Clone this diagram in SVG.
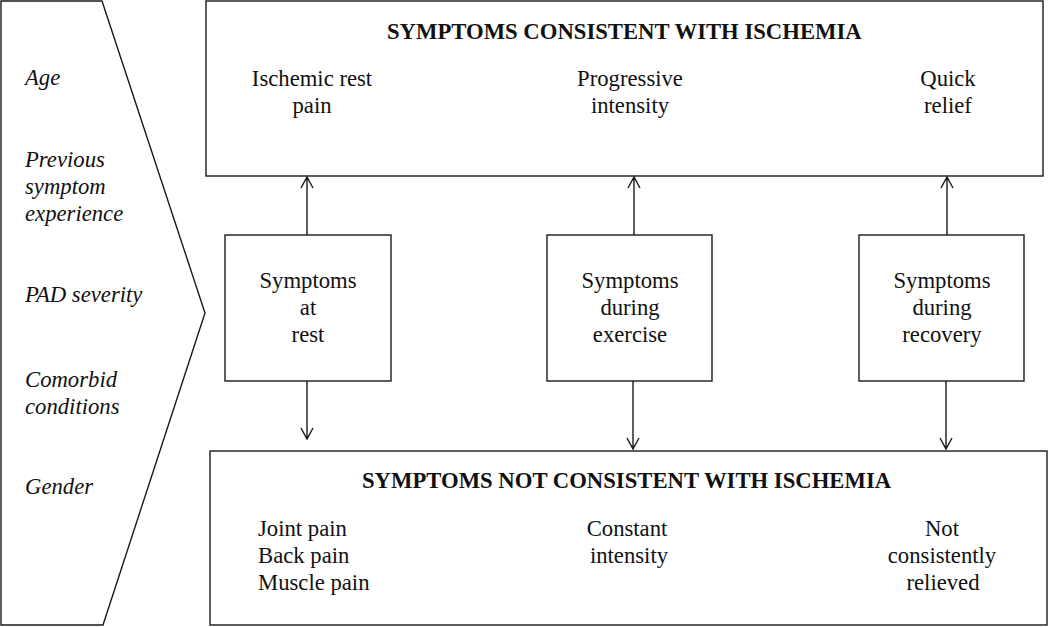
<svg xmlns="http://www.w3.org/2000/svg" width="1050" height="627" viewBox="0 0 1050 627">
<style>
.box{fill:#fff;stroke:#1a1a1a;stroke-width:1.4}
.ln{fill:none;stroke:#1a1a1a;stroke-width:1.4}
text{font-family:"Liberation Serif","Times New Roman",serif;font-size:22.7px;fill:#111}
.t{font-weight:bold;text-anchor:start}
.c{text-anchor:middle}
.i{font-style:italic}
</style>
<rect width="1050" height="627" fill="#fff"/>
<g id="factors">
<path class="box" d="M1,1 L102,1 L205,313 L103,625 L1,625 Z"/>
<text class="i" x="25" y="85">Age</text>
<text class="i" x="25" y="167">Previous</text>
<text class="i" x="25" y="194">symptom</text>
<text class="i" x="25" y="221">experience</text>
<text class="i" x="25" y="302">PAD severity</text>
<text class="i" x="25" y="387">Comorbid</text>
<text class="i" x="25" y="414">conditions</text>
<text class="i" x="25" y="494">Gender</text>
</g>
<g id="consistent">
<rect class="box" x="206" y="1" width="837" height="175"/>
<text class="t" x="387" y="39">SYMPTOMS CONSISTENT WITH ISCHEMIA</text>
<text class="c" x="312" y="86">Ischemic rest</text>
<text class="c" x="312" y="113">pain</text>
<text class="c" x="630" y="86">Progressive</text>
<text class="c" x="630" y="113">intensity</text>
<text class="c" x="948" y="86">Quick</text>
<text class="c" x="948" y="113">relief</text>
</g>
<g id="not-consistent">
<rect class="box" x="210" y="451" width="837" height="174"/>
<text class="t" x="362" y="488">SYMPTOMS NOT CONSISTENT WITH ISCHEMIA</text>
<text x="258" y="536">Joint pain</text>
<text x="258" y="563">Back pain</text>
<text x="258" y="590">Muscle pain</text>
<text class="c" x="627" y="536">Constant</text>
<text class="c" x="629" y="563">intensity</text>
<text class="c" x="942" y="536">Not</text>
<text class="c" x="942" y="563">consistently</text>
<text class="c" x="943" y="590">relieved</text>
</g>
<g id="rest">
<rect class="box" x="225" y="235" width="166" height="146"/>
<text class="c" x="308" y="288">Symptoms</text>
<text class="c" x="308" y="315">at</text>
<text class="c" x="308" y="342">rest</text>
</g>
<g id="exercise">
<rect class="box" x="547" y="235" width="165" height="146"/>
<text class="c" x="630" y="288">Symptoms</text>
<text class="c" x="630" y="315">during</text>
<text class="c" x="630" y="342">exercise</text>
</g>
<g id="recovery">
<rect class="box" x="859" y="235" width="165" height="146"/>
<text class="c" x="942" y="288">Symptoms</text>
<text class="c" x="942" y="315">during</text>
<text class="c" x="942" y="342">recovery</text>
</g>
<g id="connectors">
<path class="ln" d="M307,235 V177 M301,188 L307,177 L313,188"/>
<path class="ln" d="M307,381 V439 M301,428 L307,439 L313,428"/>
<path class="ln" d="M634,235 V177 M628,188 L634,177 L640,188"/>
<path class="ln" d="M633,381 V449 M627,438 L633,449 L639,438"/>
<path class="ln" d="M947,235 V177 M941,188 L947,177 L953,188"/>
<path class="ln" d="M946,381 V449 M940,438 L946,449 L952,438"/>
</g>
</svg>
